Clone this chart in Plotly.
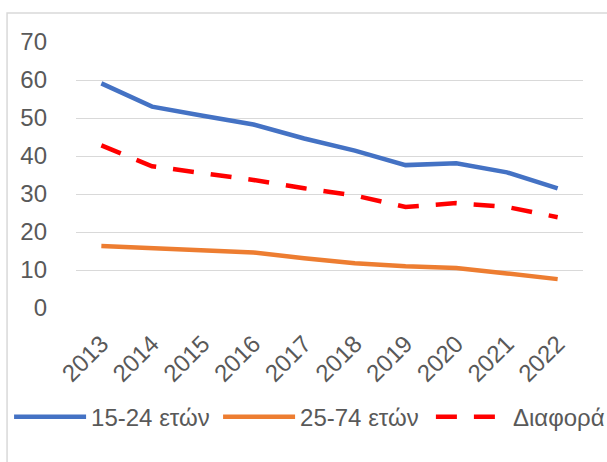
import plotly.graph_objects as go

years = ["2013", "2014", "2015", "2016", "2017", "2018", "2019", "2020", "2021", "2022"]
youth_15_24 = [59.1, 53.0, 50.6, 48.3, 44.6, 41.4, 37.6, 38.1, 35.7, 31.5]
adult_25_74 = [16.3, 15.7, 15.1, 14.6, 13.1, 11.8, 11.0, 10.5, 9.1, 7.6]
difference = [42.8, 37.3, 35.5, 33.7, 31.5, 29.6, 26.6, 27.6, 26.6, 23.9]

names = ["15-24 ετών", "25-74 ετών", "Διαφορά"]
colors = ["#4472C4", "#ED7D31", "#FF0000"]

fig = go.Figure()
fig.add_trace(go.Scatter(x=years, y=youth_15_24, mode="lines", name=names[0],
                         line=dict(color=colors[0], width=4.5), legend="legend"))
fig.add_trace(go.Scatter(x=years, y=adult_25_74, mode="lines", name=names[1],
                         line=dict(color=colors[1], width=4.5), legend="legend"))
fig.add_trace(go.Scatter(x=years, y=difference, mode="lines", name=names[2],
                         line=dict(color=colors[2], width=4.5, dash="21px,17px"),
                         legend="legend2"))

font_family = "Liberation Sans, Arial, sans-serif"
legend_font = dict(family=font_family, size=24, color="#595959")
fig.update_layout(
    width=607, height=462,
    margin=dict(l=76, r=24, t=42, b=154, autoexpand=False),
    paper_bgcolor="white", plot_bgcolor="white",
    font=dict(family=font_family, size=24, color="#595959"),
    showlegend=True,
    legend=dict(orientation="h", x=-0.132, xanchor="left", y=-0.41, yanchor="middle",
                font=legend_font, itemwidth=72, entrywidth=122,
                traceorder="normal", bgcolor="rgba(0,0,0,0)"),
    legend2=dict(orientation="h", x=0.700, xanchor="left", y=-0.41, yanchor="middle",
                 font=legend_font, itemwidth=72, bgcolor="rgba(0,0,0,0)"),
    xaxis=dict(type="category", range=[-0.5, 9.5], tickangle=-45, showgrid=False,
               showline=False, ticks="", zeroline=False, ticklabelstandoff=16,
               automargin=False, tickfont=dict(size=24, color="#595959")),
    yaxis=dict(range=[0, 70], dtick=10, tick0=0, showgrid=True, gridcolor="#D9D9D9",
               gridwidth=1.3, zeroline=False, showline=False, ticks="",
               ticklabelstandoff=28, automargin=False,
               tickfont=dict(size=24, color="#595959")),
    shapes=[dict(type="rect", xref="paper", yref="paper", x0=-0.136, x1=1.2,
                 y0=-0.8, y1=1.109, line=dict(color="#D9D9D9", width=1.5),
                 layer="below")],
)

fig.write_html("out.html", config={"displayModeBar": False},
               post_script="document.body.style.margin='0px';")
